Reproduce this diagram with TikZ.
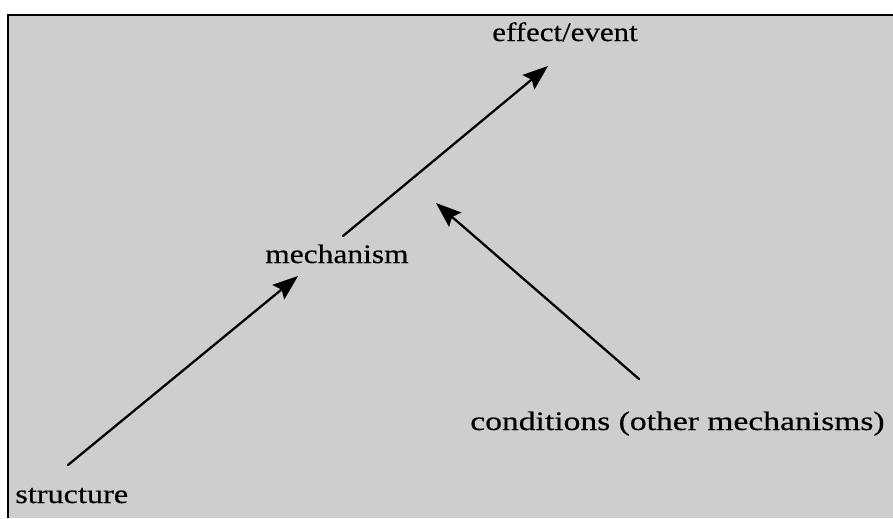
\documentclass[tikz,border=0pt]{standalone}
\usepackage{fontspec}
\setmainfont{Liberation Serif}
\newfontfamily\labelfont{Liberation Serif}[FakeBold=0.4]
\usetikzlibrary{arrows.meta}

% label text, widened horizontally by the given factor
\newcommand\widelabel[2]{\scalebox{#1}[1]{#2}}

\definecolor{paper}{RGB}{204,207,203}

\tikzset{
  lbl/.style={anchor=base west, inner sep=0pt, text=black,
              font=\labelfont\fontsize{20}{20}\selectfont},
  arrowline/.style={line width=1.7pt, line cap=round,
              -{Stealth[length=19pt, width=14pt, inset=3pt]}},
  frameline/.style={line width=1.5pt, black}
}

\begin{document}
\begin{tikzpicture}[x=0.75pt, y=-0.75pt]
  % canvas and page
  \useasboundingbox (0,0) rectangle (893,518);
  \fill[white] (0,0) rectangle (893,518);
  \fill[paper] (8,15) rectangle (893,518);
  \draw[frameline] (893,15) -- (8,15) -- (8,518);

  % labels
  \node[lbl] (effect)     at (492,41)  {\widelabel{1.16}{effect/event}};
  \node[lbl] (mechanism)  at (265,263) {\widelabel{1.18}{mechanism}};
  \node[lbl] (conditions) at (470,430) {\widelabel{1.26}{conditions (other mechanisms)}};
  \node[lbl] (structure)  at (15,503)  {\widelabel{1.21}{structure}};

  % arrow end points next to the labels
  \coordinate (structureOut)  at (68,465);
  \coordinate (mechanismIn)   at (298,276);
  \coordinate (mechanismOut)  at (343,236);
  \coordinate (effectIn)      at (548,66);
  \coordinate (conditionsOut) at (639,379);
  \coordinate (linkIn)        at (436,203);

  % connectors
  \draw[arrowline] (structureOut) -- (mechanismIn);
  \draw[arrowline] (mechanismOut) -- (effectIn);
  \draw[arrowline] (conditionsOut) -- (linkIn);
\end{tikzpicture}
\end{document}
